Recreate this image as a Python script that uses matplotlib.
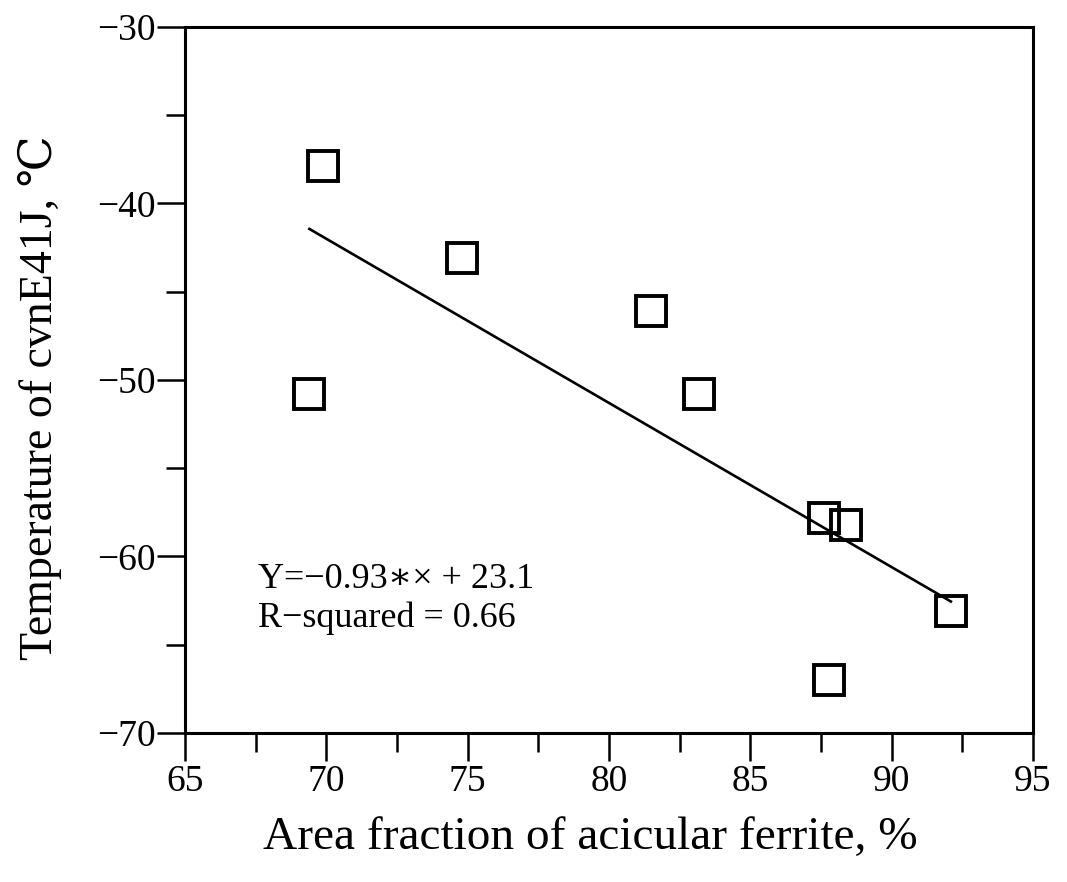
import matplotlib
matplotlib.use("Agg")
import matplotlib.pyplot as plt
from matplotlib.ticker import MultipleLocator

plt.rcParams['font.family'] = ['Liberation Serif', 'DejaVu Serif']

# area fraction of acicular ferrite (%) vs. cvnE41J temperature (C)
af = [69.9, 74.8, 81.5, 69.4, 83.2, 87.6, 88.4, 92.1, 87.8]
temp = [-37.9, -43.1, -46.1, -50.8, -50.8, -57.8, -58.2, -63.1, -67.0]

# fitted line, as printed on the chart
slope = -0.93
intercept = 23.1
fit_x = [69.4, 92.1]
fit_y = [slope * v + intercept for v in fit_x]

fig = plt.figure(figsize=(10.67, 8.82), dpi=100)
ax = fig.add_axes([0.1734, 0.169, 0.7946, 0.8004])

ax.plot(fit_x, fit_y, color='black', lw=1.9)
ax.plot(af, temp, 's', ms=21, mfc='none', mec='black', mew=2.8)

ax.text(67.6, -61.3, 'Y=\u22120.93\u2217\u00d7 + 23.1', fontsize=26, va='center')
ax.text(67.6, -63.5, 'R\u2212squared = 0.66', fontsize=26, va='center')

ax.set_xlim(65, 95)
ax.set_ylim(-70, -30)
ax.xaxis.set_major_locator(MultipleLocator(5))
ax.xaxis.set_minor_locator(MultipleLocator(2.5))
ax.yaxis.set_major_locator(MultipleLocator(10))
ax.yaxis.set_minor_locator(MultipleLocator(5))

ax.tick_params(which='major', direction='out', length=20, width=1.8, labelsize=27, pad=3)
ax.tick_params(which='minor', direction='out', length=14, width=1.8)
ax.tick_params(axis='y', which='major', pad=1)
for s in ax.spines.values():
    s.set_linewidth(2.2)

ax.set_xlabel('Area fraction of acicular ferrite, %', fontsize=34)
ax.set_ylabel('Temperature of cvnE41J, \u2103', fontsize=33)
ax.xaxis.set_label_coords(0.478, -0.118)
ax.yaxis.set_label_coords(-0.145, 0.475)

fig.savefig('out.png', dpi=100)
